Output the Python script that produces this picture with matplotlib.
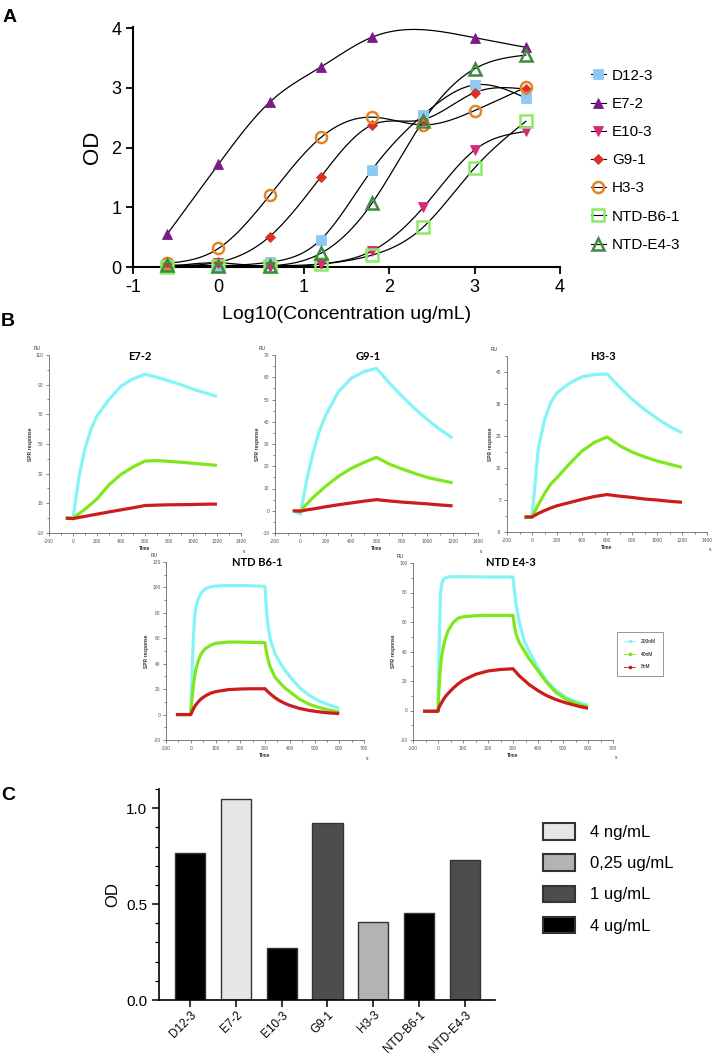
import numpy as np
import matplotlib
matplotlib.use('Agg')
import matplotlib.pyplot as plt
from matplotlib import font_manager
from matplotlib.lines import Line2D
from matplotlib.patches import Patch
from matplotlib.ticker import MultipleLocator, FixedLocator, FormatStrFormatter

#     *****     data panel A (ELISA)     *****
log_conc = [-0.6, 0.0, 0.6, 1.2, 1.8, 2.4, 3.0, 3.6]
d12_3 = [0.02, 0.02, 0.08, 0.46, 1.63, 2.55, 3.05, 2.83]
e7_2_x = [-0.6, 0.0, 0.6, 1.2, 1.8, 3.0, 3.6]
e7_2 = [0.55, 1.72, 2.76, 3.35, 3.85, 3.84, 3.68]
e10_3 = [0.0, 0.07, 0.0, 0.05, 0.27, 1.0, 1.96, 2.27]
g9_1 = [0.03, 0.08, 0.51, 1.51, 2.38, 2.47, 2.92, 2.98]
h3_3 = [0.06, 0.31, 1.2, 2.17, 2.51, 2.38, 2.62, 3.01]
ntd_b6_1 = [0.0, 0.02, 0.02, 0.05, 0.2, 0.67, 1.66, 2.44]
ntd_e4_3 = [0.03, 0.02, 0.02, 0.23, 1.07, 2.45, 3.32, 3.55]

#     *****     data panel B (SPR, RU vs time s)     *****
slow_t = [-60, 0, 50, 100, 150, 200, 300, 400, 500, 600, 700, 800, 900, 1000, 1100, 1200]
e72_200 = [0, 0, 28, 47, 60, 69, 80, 89, 94, 97, 95, 92.5, 90, 87, 84.5, 82]
e72_40 = [0, 0, 3, 6, 9.5, 13, 22.5, 29.5, 34.5, 38.5, 38.8, 38.3, 37.7, 37, 36.3, 35.6]
e72_8 = [0, -0.3, 0.5, 1.2, 2, 2.7, 4.2, 5.6, 7, 8.5, 8.8, 9, 9.1, 9.2, 9.4, 9.5]
g91_200 = [0, -1.5, 14, 26, 36, 43, 53.5, 59.5, 62.5, 64, 57.5, 51.5, 46, 41, 36.5, 32.7]
g91_40 = [0, 0, 3, 6, 8.5, 11, 15.5, 19, 21.7, 24, 21, 18.8, 16.8, 15, 13.7, 12.6]
g91_8 = [0, -0.2, 0.4, 0.8, 1.3, 1.8, 2.7, 3.5, 4.3, 5, 4.4, 3.9, 3.5, 3.1, 2.6, 2.2]
h33_200 = [-0.5, -0.3, 21, 30, 35.5, 38.5, 41.5, 43.5, 44.2, 44.4, 40.3, 36.5, 33.3, 30.5, 28, 26]
h33_40 = [-0.5, -0.3, 3.5, 7, 10, 12, 16.3, 20.3, 23, 24.7, 22, 20, 18.5, 17.2, 16.2, 15.2]
h33_8 = [-0.3, -0.3, 0.8, 1.7, 2.5, 3.2, 4.2, 5.2, 6.1, 6.7, 6.2, 5.8, 5.3, 5, 4.6, 4.3]

b61_t = [-60, 0, 5, 10, 15, 20, 30, 40, 50, 60, 80, 100, 150, 200, 250, 300,
         305, 310, 320, 340, 360, 380, 400, 440, 480, 520, 560, 600]
b61_200 = [0, 0, 30, 58, 75, 84, 91, 95, 97.5, 99, 100.5, 101, 101.5, 101.5, 101.3, 100.8,
           85, 73, 60, 48, 41, 35, 30, 21, 15, 10.5, 7.5, 5]
b61_40 = [0, 0, 12, 22, 29, 35, 42, 47, 50, 52, 54.5, 56, 57, 57, 56.8, 56.5,
          50, 45, 38, 29.5, 25, 21, 18, 12, 8, 5.5, 3.5, 2]
b61_8 = [0, 0, 2.2, 4.2, 6, 7.5, 10, 12, 13.5, 14.8, 16.8, 18, 19.6, 20.1, 20.3, 20.3,
         19.3, 18.3, 16.5, 13.3, 10.8, 8.8, 7.2, 4.8, 3.2, 2.1, 1.3, 0.8]

e43_t = [-60, 0, 3, 6, 10, 15, 20, 30, 40, 60, 80, 100, 150, 200, 250, 300,
         305, 312, 325, 345, 365, 400, 430, 470, 515, 560, 600]
e43_200 = [-0.5, -0.5, 30, 55, 78, 86, 88.5, 90, 90.5, 90.7, 90.7, 90.7, 90.6, 90.5, 90.5, 90.5,
           82, 72, 60, 47, 40, 29, 21, 14, 8.5, 5.5, 3.5]
e43_40 = [-0.5, -0.5, 11, 20, 30, 37, 42, 49, 54, 59.5, 62.5, 63.5, 64.3, 64.5, 64.5, 64.5,
          58, 52, 46, 40.5, 35, 27, 20, 12.5, 7.4, 4.3, 2.5]
e43_8 = [-0.5, -0.5, 1.5, 2.8, 4, 5.5, 7, 9.5, 11.5, 15, 18, 20.5, 24.5, 26.8, 27.8, 28.3,
         27.3, 26, 23.5, 20.5, 17.5, 13.5, 10.5, 7.5, 5, 3, 1.5]
spr_labels = ['200nM', '40nM', '8nM']

#     *****     data panel C (bars)     *****
bar_names = ['D12-3', 'E7-2', 'E10-3', 'G9-1', 'H3-3', 'NTD-B6-1', 'NTD-E4-3']
bar_od = [0.767, 1.047, 0.269, 0.925, 0.406, 0.455, 0.728]
bar_conc = ['4 ug/mL', '4 ng/mL', '4 ug/mL', '1 ug/mL', '0,25 ug/mL', '4 ug/mL', '1 ug/mL']
conc_order = ['4 ng/mL', '0,25 ug/mL', '1 ug/mL', '4 ug/mL']

#     *****     style     *****
names = {f.name for f in font_manager.fontManager.ttflist}
NARROW = 'Liberation Sans Narrow' if 'Liberation Sans Narrow' in names else 'Liberation Sans'
plt.rcParams['font.family'] = [NARROW, 'DejaVu Sans']
plt.rcParams['axes.unicode_minus'] = False

W, H = 717, 1058
fig = plt.figure(figsize=(W / 100, H / 100), dpi=100)


def rect(l, t, r, b):
    # pixel box -> figure fraction
    return [l / W, 1 - b / H, (r - l) / W, (b - t) / H]


def spline(x, y, n=300):
    # natural cubic spline through the points
    x = np.asarray(x, float)
    y = np.asarray(y, float)
    k = len(x)
    h = np.diff(x)
    A = np.zeros((k, k))
    rhs = np.zeros(k)
    A[0, 0] = A[-1, -1] = 1
    for i in range(1, k - 1):
        A[i, i - 1] = h[i - 1]
        A[i, i] = 2 * (h[i - 1] + h[i])
        A[i, i + 1] = h[i]
        rhs[i] = 6 * ((y[i + 1] - y[i]) / h[i] - (y[i] - y[i - 1]) / h[i - 1])
    M = np.linalg.solve(A, rhs)
    xs = np.linspace(x[0], x[-1], n)
    j = np.clip(np.searchsorted(x, xs) - 1, 0, k - 2)
    hh = x[j + 1] - x[j]
    a = (x[j + 1] - xs) / hh
    b = (xs - x[j]) / hh
    ys = a * y[j] + b * y[j + 1] + ((a ** 3 - a) * M[j] + (b ** 3 - b) * M[j + 1]) * hh ** 2 / 6
    return xs, ys


#     *****     Panel A     *****
axA = fig.add_axes(rect(133, 27, 560, 267))
series = [
    ('D12-3', log_conc, d12_3, 's', '#8ec9f3', '#8ec9f3', 7),
    ('E7-2', e7_2_x, e7_2, '^', '#7a1c86', '#7a1c86', 7),
    ('E10-3', log_conc, e10_3, 'v', '#d62a74', '#d62a74', 7),
    ('G9-1', log_conc, g9_1, 'D', '#d9302a', '#d9302a', 5.5),
    ('H3-3', log_conc, h3_3, 'o', 'none', '#e0862a', 8),
    ('NTD-B6-1', log_conc, ntd_b6_1, 's', 'none', '#8ee868', 8),
    ('NTD-E4-3', log_conc, ntd_e4_3, '^', 'none', '#3e8a3e', 8),
]
handles = []
for name, xs, ys, mk, fc, ec, ms in series:
    cx, cy = spline(xs, ys)
    axA.plot(cx, cy, color='black', lw=0.9, zorder=2)
for name, xs, ys, mk, fc, ec, ms in series:
    axA.plot(xs, ys, ls='none', marker=mk, ms=ms, mfc=fc, mec=ec, mew=1.8 if fc == 'none' else 0.6,
             zorder=3, clip_on=False)
    handles.append(Line2D([], [], color='black', lw=0.8, marker=mk, ms=ms, mfc=fc, mec=ec,
                          mew=1.8 if fc == 'none' else 0.6))
axA.set_xlim(-1, 4)
axA.set_ylim(0, 4.02)
axA.xaxis.set_major_locator(FixedLocator([-1, 0, 1, 2, 3, 4]))
axA.yaxis.set_major_locator(FixedLocator([0, 1, 2, 3, 4]))
axA.spines['top'].set_visible(False)
axA.spines['right'].set_visible(False)
for s in ['left', 'bottom']:
    axA.spines[s].set_linewidth(1.5)
axA.tick_params(labelsize=13, width=1.3, length=5)
axA.set_xlabel('Log10(Concentration ug/mL)', fontsize=14, labelpad=7)
axA.set_ylabel('OD', fontsize=16, labelpad=6)
axA.legend(handles, [s[0] for s in series], loc='upper left', bbox_to_anchor=(583 / W, 1 - 61 / H),
           bbox_transform=fig.transFigure, frameon=False, fontsize=11, handlelength=1.0,
           handletextpad=0.4, labelspacing=0.93, borderpad=0)

#     *****     Panel B     *****
spr_colors = ['#84f4f4', '#7fe81c', '#cc1c1c']


def spr_panel(box, t, curves, xlim, xmaj, xmin, ylim, yticks, ymin, title, title_xy):
    ax = fig.add_axes(rect(*box))
    for vals, col in zip(curves, spr_colors):
        ax.plot(t, vals, color=col, lw=2.3, solid_capstyle='butt')
    ax.set_xlim(*xlim)
    ax.set_ylim(*ylim)
    ax.xaxis.set_major_locator(MultipleLocator(xmaj))
    ax.xaxis.set_minor_locator(MultipleLocator(xmin))
    ax.yaxis.set_major_locator(FixedLocator(yticks))
    ax.yaxis.set_minor_locator(MultipleLocator(ymin))
    ax.spines['top'].set_visible(False)
    ax.spines['right'].set_visible(False)
    for s in ['left', 'bottom']:
        ax.spines[s].set_linewidth(0.6)
        ax.spines[s].set_color('#666666')
    ax.tick_params(which='both', labelsize=3.5, colors='#555555', width=0.5)
    ax.tick_params(which='major', length=2.5, pad=1.5)
    ax.tick_params(which='minor', length=1.5)
    ax.set_xlabel('Time', fontsize=3.5, labelpad=1.5, fontweight='bold', color='#333333')
    ax.set_ylabel('SPR response', fontsize=3.5, labelpad=2, fontweight='bold', color='#333333')
    ax.text(-0.08, 1.03, 'RU', transform=ax.transAxes, fontsize=3.5, color='#333333')
    ax.text(1.01, -0.11, 's', transform=ax.transAxes, fontsize=3.5, color='#333333')
    fig.text(title_xy[0] / W, 1 - title_xy[1] / H, title, ha='center', va='center',
             fontsize=8, fontweight='bold', family=['Lato', 'DejaVu Sans'])
    return ax


spr_panel((49, 355, 241, 533), slow_t, [e72_200, e72_40, e72_8], (-200, 1400), 200, 100,
          (-10, 110), [-10, 10, 30, 50, 70, 90, 110], 10, 'E7-2', (140, 357))
spr_panel((275, 355, 478, 533), slow_t, [g91_200, g91_40, g91_8], (-200, 1400), 200, 100,
          (-10, 70), list(range(-10, 71, 10)), 5, 'G9-1', (368, 357))
spr_panel((507, 356, 707, 532), slow_t, [h33_200, h33_40, h33_8], (-200, 1400), 200, 100,
          (-5, 50), list(range(-5, 46, 10)), 5, 'H3-3', (603, 357))
spr_panel((166, 562, 364, 740), b61_t, [b61_200, b61_40, b61_8], (-100, 700), 100, 50,
          (-20, 120), list(range(-20, 121, 20)), 10, 'NTD B6-1', (257, 563))
axE = spr_panel((413, 563, 613, 740), e43_t, [e43_200, e43_40, e43_8], (-100, 700), 100, 50,
                (-20, 100), list(range(-20, 101, 20)), 10, 'NTD E4-3', (511, 563))
spr_handles = [Line2D([], [], color=c, lw=0.6, marker='s', ms=1.8, mec=c) for c in spr_colors]
axE.legend(spr_handles, spr_labels, loc='center', bbox_to_anchor=(640 / W, 1 - 654 / H),
           bbox_transform=fig.transFigure, fontsize=3.5, handlelength=2.2, labelspacing=1.6,
           borderpad=1.4, fancybox=False, edgecolor='#888888', framealpha=1,
           handletextpad=1.2, borderaxespad=0).get_frame().set_linewidth(0.6)

#     *****     Panel C     *****
conc_colors = {'4 ng/mL': '#e6e6e6', '0,25 ug/mL': '#b3b3b3', '1 ug/mL': '#4d4d4d', '4 ug/mL': '#000000'}
axC = fig.add_axes(rect(159, 789, 495, 1000))
xpos = np.arange(len(bar_names))
axC.bar(xpos, bar_od, width=0.66, color=[conc_colors[c] for c in bar_conc],
        edgecolor='#333333', linewidth=1.0)
axC.set_xlim(-0.68, 6.66)
axC.set_ylim(0, 1.1)
axC.yaxis.set_major_locator(FixedLocator([0, 0.5, 1.0]))
axC.yaxis.set_minor_locator(MultipleLocator(0.1))
axC.yaxis.set_major_formatter(FormatStrFormatter('%.1f'))
axC.set_xticks(xpos)
axC.set_xticklabels(bar_names, rotation=45, ha='right', rotation_mode='anchor', fontsize=8.5)
axC.spines['top'].set_visible(False)
axC.spines['right'].set_visible(False)
for s in ['left', 'bottom']:
    axC.spines[s].set_linewidth(1.2)
axC.tick_params(which='major', labelsize=11, width=1.1, length=5)
axC.tick_params(axis='x', labelsize=8.5, pad=1.5)
axC.tick_params(which='minor', width=0.9, length=3)
axC.set_ylabel('OD', fontsize=12, labelpad=4)
leg_handles = [Patch(facecolor=conc_colors[c], edgecolor='#333333', linewidth=1.5) for c in conc_order]
axC.legend(leg_handles, conc_order, loc='upper left', bbox_to_anchor=(535 / W, 1 - 815 / H),
           bbox_transform=fig.transFigure, frameon=False, fontsize=12, handlelength=1.9,
           handleheight=1.15, handletextpad=0.9, labelspacing=0.85, borderpad=0)

#     *****     panel letters     *****
fig.text(3 / W, 1 - 18 / H, 'A', fontsize=14, fontweight='bold', va='center', family='Liberation Sans')
fig.text(1 / W, 1 - 322 / H, 'B', fontsize=14, fontweight='bold', va='center', family='Liberation Sans')
fig.text(1 / W, 1 - 795 / H, 'C', fontsize=14, fontweight='bold', va='center', family='Liberation Sans')

fig.savefig('out.png', dpi=100)
